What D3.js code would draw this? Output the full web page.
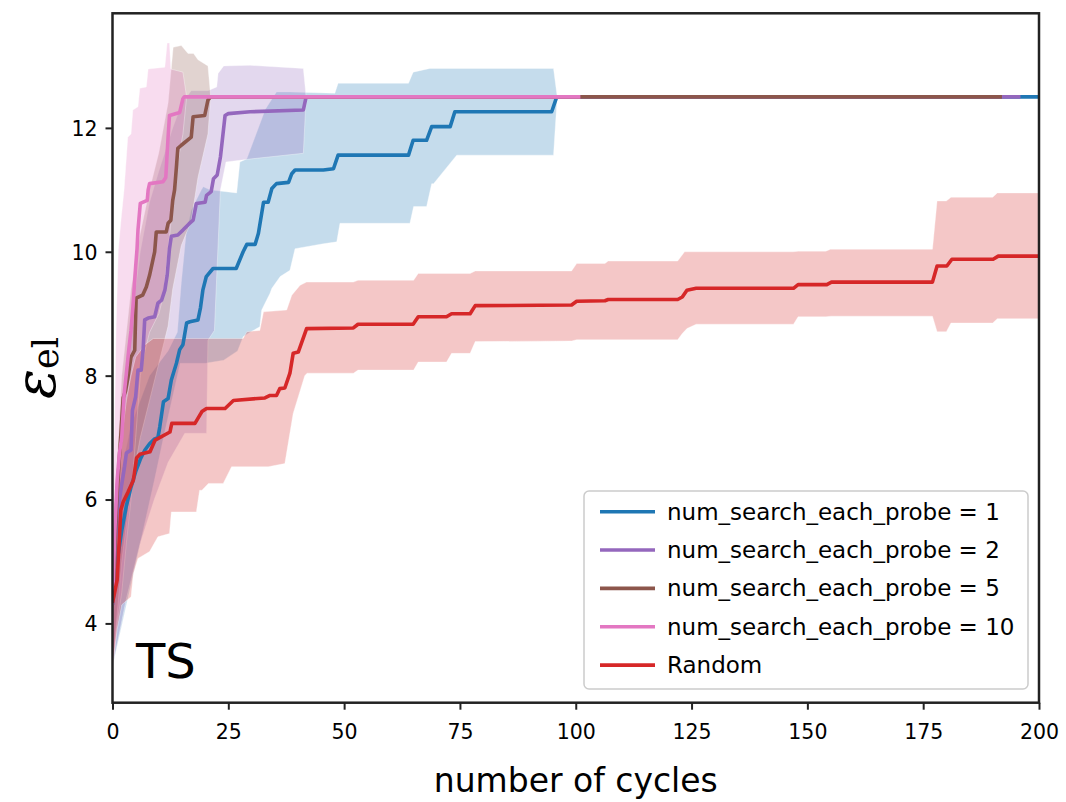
<!DOCTYPE html>
<html><head><meta charset="utf-8">
<script src="https://cdn.jsdelivr.net/npm/d3@7"></script>
<style>
html,body{margin:0;padding:0;background:#fff;}
svg{display:block;}
text{font-family:"DejaVu Sans",sans-serif;fill:#000;}
</style></head>
<body>
<svg id="chart" width="1066" height="802"></svg>
<script>
// ---------- data ----------
const seriesNames = ["num_search_each_probe = 1","num_search_each_probe = 2","num_search_each_probe = 5","num_search_each_probe = 10","Random"];
const seriesColors = ["#1f77b4","#9467bd","#8c564b","#e377c2","#d62728"];
const xTicks = [0,25,50,75,100,125,150,175,200];
const yTicks = [4,6,8,10,12];

const blueMean = [[0,4.3],[1,5.0],[2,5.5],[3,5.9],[4,6.2],[5,6.45],[6,6.65],[7,6.8],[8,6.9],[9.1,6.98],[9.8,7.0],[10.2,7.17],[11,7.58],[12,7.63],[12.7,7.93],[13.8,8.2],[14.5,8.42],[15.2,8.5],[16,8.85],[16.7,8.87],[18.45,8.9],[19,9.1],[19.5,9.38],[20.25,9.6],[21.7,9.73],[26.7,9.73],[28.2,10.0],[29,10.12],[30.8,10.12],[31.5,10.3],[32.6,10.8],[33.6,10.8],[34.4,11.02],[35.4,11.1],[38,11.12],[38.7,11.26],[39.4,11.32],[45.5,11.32],[47.7,11.34],[48.7,11.56],[63.9,11.56],[64.9,11.8],[67.8,11.8],[68.9,12.02],[72.9,12.02],[73.9,12.26],[94.8,12.26],[95.9,12.5],[200,12.5]];
const blueUpper = [[0,5.3],[2,6.5],[4,7.2],[6,7.6],[8,8.0],[10,8.2],[12,8.4],[14,8.7],[14.85,9.5],[15.9,10.3],[17,10.67],[19.2,11.0],[19.6,11.05],[21,11.0],[26.8,10.95],[27.5,11.45],[29,11.5],[31,11.9],[33,12.3],[35.4,12.58],[38.3,12.58],[48,12.56],[48.7,12.72],[63.9,12.72],[64.9,12.9],[68.5,12.96],[95.2,12.96],[96,12.5],[200,12.5]];
const blueLower = [[0,3.3],[3,4.3],[6,5.3],[9,6.3],[11,7.0],[12.5,7.5],[14.6,8.2],[20,8.2],[24,8.25],[27,8.4],[28.2,8.63],[29.7,8.7],[31.8,8.79],[32.2,9.06],[34,9.33],[34.4,9.41],[36.2,9.6],[38.3,9.7],[39.4,10.05],[45.5,10.13],[48.4,10.16],[49.1,10.46],[64.2,10.46],[65,10.73],[67.8,10.73],[68.9,11.1],[69.3,11.1],[74.3,11.56],[95.2,11.56],[96,12.5],[200,12.5]];

const purpleMean = [[0,4.3],[0.6,5.3],[1.5,5.99],[1.9,6.2],[2.6,6.53],[3.0,6.75],[4.0,6.8],[4.3,7.44],[5.0,7.66],[5.5,8.09],[6.2,8.09],[6.6,8.41],[6.95,8.9],[7.7,8.93],[9.1,8.95],[9.8,9.17],[10.6,9.22],[11.3,9.38],[11.8,9.62],[12.3,10.05],[12.7,10.25],[14.1,10.27],[15.2,10.35],[16.5,10.45],[17.4,10.51],[18.1,10.78],[20.0,10.8],[20.3,10.91],[21.3,10.97],[21.8,11.18],[22.6,11.24],[23.3,11.53],[24.3,12.2],[25,12.23],[29.7,12.26],[41.2,12.29],[41.8,12.5],[196,12.5]];
const purpleUpper = [[0,5.3],[2,7.3],[4,8.8],[6,10.0],[8,10.8],[10,11.3],[13,12.0],[15,12.4],[17,12.6],[20.6,12.6],[22.5,12.66],[22.8,12.88],[24,13.0],[29.7,13.01],[41.2,12.96],[41.8,12.5],[196,12.5]];
const purpleLower = [[0,3.3],[3,4.4],[6,5.3],[9,6.0],[12,6.6],[15.6,7.07],[20.3,7.07],[20.6,8.57],[22,8.73],[23.3,11.0],[24.5,11.45],[30,11.5],[41.2,11.59],[41.8,12.5],[196,12.5]];

const brownMean = [[0,4.3],[0.5,5.2],[1,6.1],[1.5,6.69],[1.9,7.17],[2.3,7.64],[2.8,7.75],[3.35,7.98],[4.0,8.3],[4.8,8.41],[5.1,9.25],[6.5,9.3],[7.3,9.43],[8.0,9.62],[8.7,9.86],[9.1,10.0],[9.45,10.32],[11.6,10.32],[12.0,10.46],[12.6,10.51],[13.0,10.83],[13.4,11.0],[13.8,11.37],[14.1,11.67],[14.85,11.72],[17.0,11.85],[17.4,12.18],[19.9,12.2],[20.6,12.45],[21.2,12.5],[192,12.5]];
const brownUpper = [[0,5.3],[2,8.0],[4,9.4],[6,10.3],[8,11.0],[10,11.6],[12,12.4],[13.1,13.3],[14.85,13.33],[16.3,13.2],[17.5,13.2],[18.45,13.1],[20.6,13.0],[21.2,12.5],[192,12.5]];
const brownLower = [[0,3.3],[2,5.0],[4,6.2],[6,7.0],[8,7.6],[10,8.2],[12,8.8],[13,9.4],[14.85,10.1],[17,10.5],[18.45,11.2],[20.6,11.9],[21.2,12.5],[192,12.5]];

const pinkMean = [[0,4.3],[0.5,5.5],[1,6.3],[1.5,6.75],[2,7.0],[2.5,7.69],[3,8.04],[3.5,8.41],[4,8.73],[4.4,9.1],[4.7,9.43],[5.0,9.76],[5.3,10.05],[5.5,10.35],[6,10.78],[7.5,10.83],[7.7,11.0],[8,11.1],[10.9,11.13],[11.5,11.2],[12,11.85],[12.3,12.2],[14.5,12.25],[15.2,12.47],[15.5,12.5],[101,12.5]];
const pinkUpper = [[0,5.5],[0.5,7.5],[0.8,8.84],[1.25,10.03],[1.9,10.56],[2.5,11.0],[3.0,11.53],[3.3,11.85],[4.0,11.9],[4.4,12.29],[5.5,12.34],[5.9,12.64],[7.3,12.66],[7.7,12.95],[11.3,12.98],[11.8,13.37],[12.3,13.37],[12.6,12.95],[15.2,12.9],[16,12.5],[101,12.5]];
const pinkLower = [[0,3.2],[1,4.0],[2,4.5],[3,5.3],[4,6.0],[5,7.0],[6,8.0],[7,8.4],[8,8.7],[10,9.0],[11,9.3],[12,10.0],[13,10.8],[14,11.4],[15.2,11.9],[16,12.5],[101,12.5]];

const redMean = [[0,4.33],[1,4.7],[1.8,5.83],[2.3,5.96],[3.35,6.12],[4.5,6.31],[5.2,6.67],[5.9,6.73],[8.1,6.77],[9.2,6.96],[12.4,7.09],[12.8,7.23],[17.8,7.23],[19.3,7.42],[20.3,7.47],[24.3,7.47],[26.1,7.6],[32.9,7.64],[34,7.68],[35.4,7.68],[36.1,7.79],[37.2,7.8],[38.3,8.04],[39,8.36],[40.1,8.38],[41.9,8.76],[52,8.77],[53,8.83],[64.9,8.83],[66,8.95],[72.1,8.95],[73.2,9.0],[77.2,9.0],[78.3,9.13],[99.1,9.14],[100.2,9.2],[106.3,9.21],[107,9.23],[122,9.23],[123,9.27],[124,9.38],[126,9.41],[147,9.41],[148,9.47],[154.2,9.47],[155.2,9.51],[177,9.51],[178,9.77],[180.1,9.77],[181.2,9.88],[190.1,9.88],[191.2,9.93],[200,9.93]];
const redUpper = [[0,5.3],[1,6.3],[2,7.0],[3,7.6],[4,8.0],[5,8.3],[7,8.5],[8.8,8.6],[28.2,8.6],[29,8.71],[31.8,8.73],[32.6,9.03],[37.6,9.06],[38.7,9.3],[40.5,9.46],[41.9,9.51],[52,9.51],[53,9.54],[65,9.54],[66,9.65],[77.2,9.65],[78.3,9.69],[99.1,9.69],[100.2,9.81],[106.3,9.81],[107,9.85],[122,9.85],[123.5,10.0],[147,10.0],[148,10.01],[154,10.01],[155,10.04],[177,10.04],[178,10.82],[180,10.82],[181,10.88],[190,10.88],[191,10.95],[200,10.95]];
const redLower = [[0,3.3],[1,3.9],[2,4.3],[4,4.43],[4.5,4.8],[5.5,5.05],[8,5.16],[9.8,5.4],[12.3,5.45],[12.7,5.8],[18.1,5.8],[18.8,6.15],[19.3,6.15],[20.7,6.26],[23.9,6.26],[25.7,6.53],[33.6,6.53],[37.2,6.58],[39,7.39],[41.5,8.0],[42,8.04],[52,8.04],[53,8.09],[65,8.09],[66,8.22],[72.1,8.22],[73.2,8.36],[77.2,8.36],[78.3,8.55],[99.1,8.56],[100.2,8.58],[122,8.58],[123,8.68],[124,8.76],[126,8.83],[147,8.83],[148,8.95],[154,8.95],[155,8.96],[177,8.96],[178,8.71],[180,8.71],[181,8.85],[190,8.85],[191,8.92],[200,8.92]];

const means  = [blueMean, purpleMean, brownMean, pinkMean, redMean];
const uppers = [blueUpper, purpleUpper, brownUpper, pinkUpper, redUpper];
const lowers = [blueLower, purpleLower, brownLower, pinkLower, redLower];

// ---------- layout ----------
const L = 112.5, R = 1039, T = 13.3, B = 702.7;
const svg = d3.select("#chart");
const x = d3.scaleLinear().domain([0,200]).range([L,R]);
const y = d3.scaleLinear().domain([2.72,13.85]).range([B,T]);

svg.append("defs").append("clipPath").attr("id","plotclip")
  .append("rect").attr("x",L).attr("y",T).attr("width",R-L).attr("height",B-T);
const plot = svg.append("g").attr("clip-path","url(#plotclip)");

const line = d3.line().x(d=>x(d[0])).y(d=>y(d[1]));

// bands
means.forEach((m,i)=>{
  const poly = uppers[i].concat(lowers[i].slice().reverse());
  plot.append("path")
    .attr("d", line(poly)+"Z")
    .attr("fill", seriesColors[i]).attr("fill-opacity",0.26)
    .attr("stroke","#ffffff").attr("stroke-opacity",0.35).attr("stroke-width",1);
});
// mean lines
means.forEach((m,i)=>{
  plot.append("path")
    .attr("d", line(m))
    .attr("fill","none").attr("stroke",seriesColors[i])
    .attr("stroke-width",3.6).attr("stroke-linejoin","round").attr("stroke-linecap","butt");
});

// axes
const xAxis = d3.axisBottom(x).tickValues(xTicks).tickSize(7).tickPadding(15).tickFormat(d3.format("d"));
const yAxis = d3.axisLeft(y).tickValues(yTicks).tickSize(7).tickPadding(8).tickFormat(d3.format("d"));
const gx = svg.append("g").attr("transform",`translate(0,${B})`).call(xAxis);
const gy = svg.append("g").attr("transform",`translate(${L},0)`).call(yAxis);
[gx,gy].forEach(g=>{
  g.select(".domain").remove();
  g.selectAll(".tick line").attr("stroke","#222").attr("stroke-width",2);
  g.selectAll(".tick text").attr("font-size",20.5).attr("fill","#222").style("font-family","DejaVu Sans");
});
gy.selectAll(".tick text").attr("dy","0.36em");

// spines
svg.append("rect").attr("x",L).attr("y",T).attr("width",R-L).attr("height",B-T)
  .attr("fill","none").attr("stroke","#222").attr("stroke-width",2.5);

// labels
svg.append("text").attr("x",(L+R)/2).attr("y",792).attr("text-anchor","middle")
  .attr("font-size",33).attr("fill","#111").text("number of cycles");
const yl = svg.append("text").attr("transform","translate(55,368) rotate(-90)").attr("text-anchor","middle")
  .style("font-family","'DejaVu Serif','Liberation Serif',serif");
yl.append("tspan").attr("font-size",56).attr("font-style","italic").text("ε");
yl.append("tspan").attr("font-size",35).attr("dy",3).text("el");

svg.append("text").attr("x",136).attr("y",678).attr("font-size",48).attr("fill","#000").text("TS");

// legend
const lg = svg.append("g");
lg.append("rect").attr("x",584).attr("y",491).attr("width",444).attr("height",198).attr("rx",5)
  .attr("fill","#fff").attr("fill-opacity",0.85).attr("stroke","#cccccc").attr("stroke-width",1.5);
seriesNames.forEach((name,i)=>{
  const yy = 511.7 + i*38.35;
  lg.append("line").attr("x1",600).attr("x2",655).attr("y1",yy).attr("y2",yy)
    .attr("stroke",seriesColors[i]).attr("stroke-width",3.6);
  lg.append("text").attr("x",667).attr("y",yy+8).attr("font-size",23).attr("fill","#111").text(name);
});
</script>
</body></html>
